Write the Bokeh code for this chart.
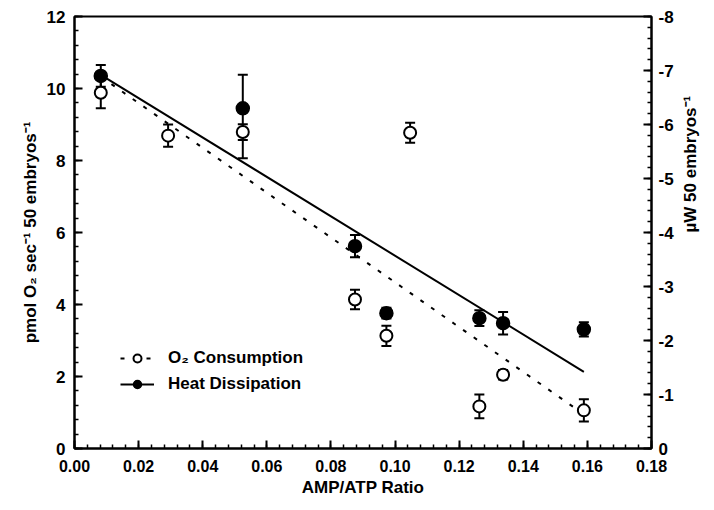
import math
from bokeh.plotting import figure
from bokeh.models import (ColumnDataSource, Range1d, LinearAxis, FixedTicker, Whisker, TeeHead,
                          Legend, LegendItem)
from bokeh.embed import file_html
from bokeh.resources import INLINE

# ---- data ----
x_o2 = [0.0082, 0.0292, 0.0525, 0.0875, 0.0973, 0.1047, 0.1263, 0.1337, 0.1589]
y_o2 = [9.88, 8.69, 8.79, 4.14, 3.13, 8.77, 1.17, 2.05, 1.06]
err_o2 = [0.43, 0.31, 0.22, 0.27, 0.28, 0.28, 0.33, 0.13, 0.31]

x_heat = [0.0082, 0.0525, 0.0875, 0.0973, 0.1263, 0.1337, 0.1589]
y_heat = [10.35, 9.45, 5.62, 3.76, 3.62, 3.48, 3.31]
err_heat_lo = [0.30, 1.39, 0.31, 0.15, 0.22, 0.31, 0.20]
err_heat_hi = [0.30, 0.93, 0.31, 0.15, 0.22, 0.31, 0.20]

fit_o2_x = [0.0082, 0.1589]
fit_o2_y = [10.33, 0.95]
fit_heat_x = [0.0082, 0.1589]
fit_heat_y = [10.38, 2.13]

x_ticks = [0.00, 0.02, 0.04, 0.06, 0.08, 0.10, 0.12, 0.14, 0.16, 0.18]
y_ticks = [0, 2, 4, 6, 8, 10, 12]
y2_ticks = [0, -1, -2, -3, -4, -5, -6, -7, -8]

FONT = "Liberation Sans"

p = figure(width=712, height=508, output_backend="svg", toolbar_location=None,
           x_range=Range1d(0, 0.18), y_range=Range1d(0, 12),
           min_border_left=74, min_border_right=56, min_border_top=16, min_border_bottom=60)
p.extra_y_ranges = {"right": Range1d(start=0, end=-8)}

p.xgrid.visible = False
p.ygrid.visible = False
p.outline_line_color = "black"
p.outline_line_width = 2
p.background_fill_color = "white"
p.border_fill_color = "white"

src_o = ColumnDataSource(dict(x=x_o2, y=y_o2,
                              lo=[a - b for a, b in zip(y_o2, err_o2)],
                              hi=[a + b for a, b in zip(y_o2, err_o2)]))
src_h = ColumnDataSource(dict(x=x_heat, y=y_heat,
                              lo=[a - b for a, b in zip(y_heat, err_heat_lo)],
                              hi=[a + b for a, b in zip(y_heat, err_heat_hi)]))

for src in (src_h, src_o):
    w = Whisker(source=src, base="x", lower="lo", upper="hi", line_width=2, line_color="black",
                upper_head=TeeHead(size=10, line_width=2, line_color="black"),
                lower_head=TeeHead(size=10, line_width=2, line_color="black"))
    p.add_layout(w)

l_heat = p.line(fit_heat_x, fit_heat_y, line_color="black", line_width=2)
l_o2 = p.line(fit_o2_x, fit_o2_y, line_color="black", line_width=2, line_dash="4 9")

s_heat = p.scatter("x", "y", source=src_h, size=13, fill_color="black", line_color="black", line_width=1.5)
s_o2 = p.scatter("x", "y", source=src_o, size=12, fill_color="white", line_color="black", line_width=2)

# axes styling
def style_axis(ax):
    ax.axis_line_width = 2
    ax.axis_line_color = "black"
    ax.major_tick_in = 8
    ax.major_tick_out = 0
    ax.minor_tick_in = 4
    ax.minor_tick_out = 0
    ax.major_tick_line_width = 2
    ax.minor_tick_line_width = 1.5
    ax.major_label_text_font = FONT
    ax.major_label_text_font_style = "bold"
    ax.major_label_text_font_size = "17px"
    ax.major_label_text_color = "black"
    ax.axis_label_text_font = FONT
    ax.axis_label_text_font_style = "bold"
    ax.axis_label_text_font_size = "17px"
    ax.axis_label_text_color = "black"

xa = p.xaxis[0]
style_axis(xa)
xa.ticker = FixedTicker(ticks=x_ticks, minor_ticks=[i * 0.004 for i in range(46)])
xa.major_label_overrides = {t: f"{t:.2f}" for t in x_ticks}
xa.major_label_text_font_size = "16px"
xa.major_label_standoff = 11
xa.axis_label = "AMP/ATP Ratio"
xa.axis_label_standoff = 3

ya = p.yaxis[0]
style_axis(ya)
ya.ticker = FixedTicker(ticks=y_ticks, minor_ticks=[i * 0.4 for i in range(31)])
ya.major_label_overrides = {t: str(t) for t in y_ticks}
ya.major_label_standoff = 9
ya.axis_label = "pmol O₂ sec⁻¹ 50 embryos⁻¹"
ya.axis_label_standoff = 4

ra = LinearAxis(y_range_name="right")
style_axis(ra)
ra.ticker = FixedTicker(ticks=y2_ticks, minor_ticks=[-i * 0.2 for i in range(41)])
ra.major_label_overrides = {t: str(t) for t in y2_ticks}
ra.major_label_standoff = 7
ra.axis_label = "µW 50 embryos⁻¹"
ra.axis_label_standoff = 14
ra.axis_label_orientation = math.pi / 2
p.add_layout(ra, "right")

legend = Legend(items=[LegendItem(label="O₂ Consumption", renderers=[l_o2, s_o2]),
                       LegendItem(label="Heat Dissipation", renderers=[l_heat, s_heat])],
                location=(46, 54), orientation="vertical",
                label_text_font=FONT, label_text_font_style="bold", label_text_font_size="17px",
                label_text_color="black", glyph_width=34, glyph_height=20, label_height=20,
                label_standoff=14, spacing=6, padding=0, margin=0,
                border_line_color=None, background_fill_alpha=0)
p.add_layout(legend)

open("out.html", "w").write(file_html(p, INLINE))
